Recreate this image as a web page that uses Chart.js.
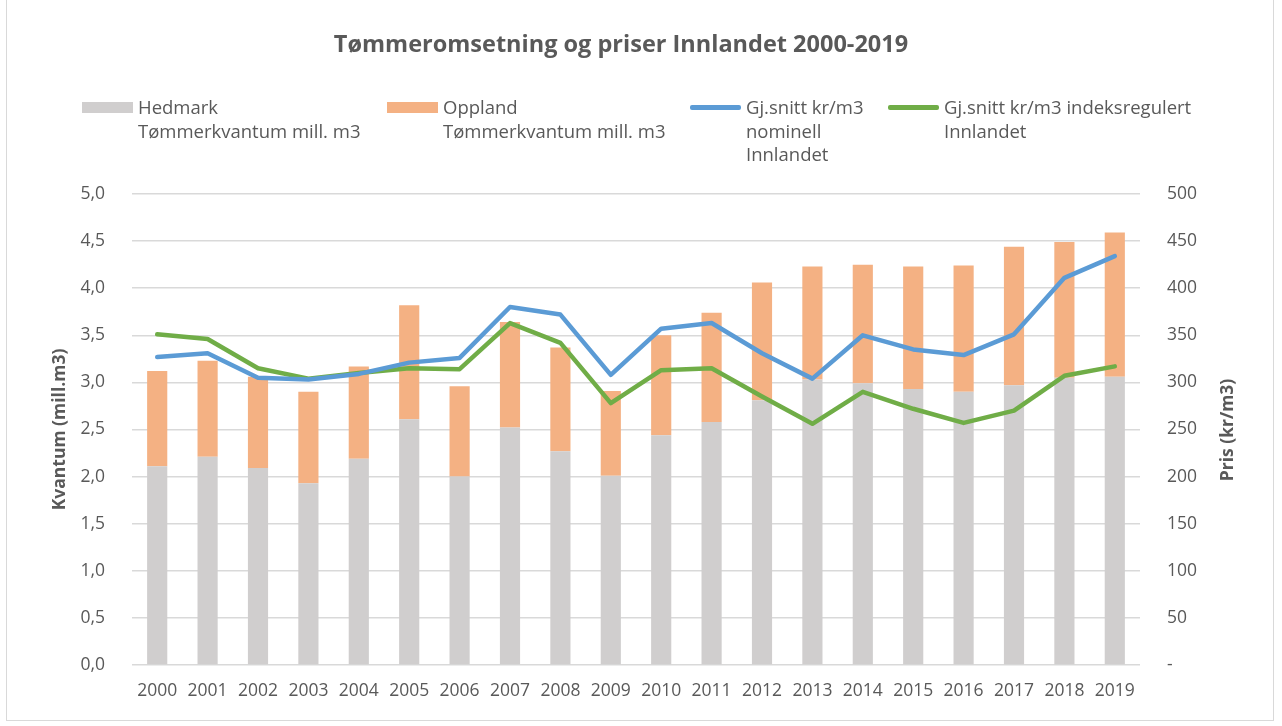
<!DOCTYPE html>
<html>
<head>
<meta charset="utf-8">
<script src="https://cdn.jsdelivr.net/npm/chart.js@4.4.1/dist/chart.umd.min.js"></script>
<style>
  body { margin: 0; background: #fff; font-family: 'Open Sans', sans-serif; }
  #wrap { position: relative; width: 1282px; height: 726px; overflow: hidden; }
  #frame { position: absolute; left: 6px; top: -1px; width: 1268px; height: 722px; border: 1px solid #d9d9d9; box-sizing: border-box; pointer-events: none; }
  #title { position: absolute; top: 27px; left: 0; width: 1242px; text-align: center; font-weight: bold; font-size: 23.5px; color: #595959; }
  .leg { position: absolute; top: 95px; font-size: 18.5px; line-height: 23.5px; color: #595959; }
  .sw { position: absolute; left: 0; }
  .txt { position: absolute; white-space: nowrap; }
  #ytitle2 { position: absolute; left: 1226px; top: 430px; transform: translate(-50%, -50%) rotate(-90deg); font-weight: bold; font-size: 17.5px; color: #595959; white-space: nowrap; }
</style>
</head>
<body>
<div id="wrap">
  <canvas id="chart" width="1282" height="726"></canvas>
  <div id="title">Tømmeromsetning og priser Innlandet 2000-2019</div>
  <div id="legend"></div>
  <div id="ytitle2">Pris (kr/m3)</div>
  <div id="frame"></div>
</div>
<script>
// ---- data ----
const years = ['2000','2001','2002','2003','2004','2005','2006','2007','2008','2009',
               '2010','2011','2012','2013','2014','2015','2016','2017','2018','2019'];

// Tømmerkvantum mill. m3
const hedmark = [2.11, 2.21, 2.09, 1.93, 2.19, 2.61, 2.00, 2.52, 2.27, 2.01,
                 2.44, 2.58, 2.81, 3.03, 2.99, 2.93, 2.90, 2.97, 3.05, 3.06];
const totals  = [3.12, 3.23, 3.06, 2.90, 3.17, 3.82, 2.96, 3.64, 3.37, 2.91,
                 3.50, 3.74, 4.06, 4.23, 4.25, 4.23, 4.24, 4.44, 4.49, 4.59];
const oppland = totals.map((t, i) => +(t - hedmark[i]).toFixed(2));

// kr/m3
const nominell = [327, 331, 305, 303, 309, 321, 326, 380, 372, 308,
                  357, 363, 331, 304, 350, 335, 329, 351, 411, 434];
const indeksregulert = [351, 346, 315, 304, 310, 315, 314, 363, 342, 278,
                        313, 315, 285, 256, 290, 272, 257, 270, 307, 317];

const seriesLabels = [
  ['Hedmark', 'Tømmerkvantum mill. m3'],
  ['Oppland', 'Tømmerkvantum mill. m3'],
  ['Gj.snitt kr/m3', 'nominell', 'Innlandet'],
  ['Gj.snitt kr/m3 indeksregulert', 'Innlandet'],
];
const seriesColors = ['#d0cece', '#f4b183', '#5b9bd5', '#70ad47'];

// ---- legend (html, multi-line labels) ----
const legendX = [82, 387, 690, 888];
const legend = document.getElementById('legend');
seriesLabels.forEach((lines, i) => {
  const el = document.createElement('div');
  el.className = 'leg';
  el.style.left = legendX[i] + 'px';
  const sw = document.createElement('div');
  sw.className = 'sw';
  if (i < 2) {
    sw.style.cssText += 'top:7px;width:51px;height:11px;background:' + seriesColors[i];
  } else {
    sw.style.cssText += 'top:10px;width:51px;height:4.5px;border-radius:2px;background:' + seriesColors[i];
  }
  const tx = document.createElement('div');
  tx.className = 'txt';
  tx.style.left = '56px';
  tx.innerHTML = lines.join('<br>');
  el.appendChild(sw);
  el.appendChild(tx);
  legend.appendChild(el);
});

// ---- chart ----
const tickColor = '#595959';
const tickFont = { family: "'Open Sans', sans-serif", size: 17.5 };

new Chart(document.getElementById('chart'), {
  data: {
    labels: years,
    datasets: [
      {
        type: 'line', label: seriesLabels[2].join(' '), data: nominell, yAxisID: 'y2',
        borderColor: seriesColors[2], borderWidth: 4.5, pointRadius: 0,
        borderCapStyle: 'round', borderJoinStyle: 'round', tension: 0, order: 0,
      },
      {
        type: 'line', label: seriesLabels[3].join(' '), data: indeksregulert, yAxisID: 'y2',
        borderColor: seriesColors[3], borderWidth: 4.5, pointRadius: 0,
        borderCapStyle: 'round', borderJoinStyle: 'round', tension: 0, order: 0,
      },
      {
        type: 'bar', label: seriesLabels[0].join(' '), data: hedmark, yAxisID: 'y',
        backgroundColor: seriesColors[0], barPercentage: 0.4, categoryPercentage: 1, order: 1,
      },
      {
        type: 'bar', label: seriesLabels[1].join(' '), data: oppland, yAxisID: 'y',
        backgroundColor: seriesColors[1], barPercentage: 0.4, categoryPercentage: 1, order: 1,
      },
    ],
  },
  options: {
    responsive: false,
    animation: false,
    layout: { padding: { top: 194, left: 0, right: 0, bottom: 0 } },
    plugins: { legend: { display: false }, title: { display: false }, tooltip: { enabled: false } },
    scales: {
      x: {
        stacked: true,
        grid: { display: false, drawTicks: false },
        border: { display: false },
        ticks: { color: tickColor, font: tickFont, padding: 16, maxRotation: 0, autoSkip: false },
        afterFit: s => { s.height = 61; },
      },
      y: {
        type: 'linear', position: 'left', stacked: true,
        min: 0, max: 5,
        grid: { color: '#d9d9d9', lineWidth: 1.5, drawTicks: false },
        border: { display: false },
        ticks: {
          stepSize: 0.5, color: tickColor, font: tickFont, padding: 27,
          callback: v => v.toFixed(1).replace('.', ','),
        },
        title: {
          display: true, text: 'Kvantum (mill.m3)', color: tickColor,
          font: { family: "'Open Sans', sans-serif", size: 17.5, weight: 'bold' },
          padding: { top: 50, bottom: 0 },
        },
        afterFit: s => { s.width = 132; },
      },
      y2: {
        type: 'linear', position: 'right',
        min: 0, max: 500,
        grid: { display: false, drawTicks: false },
        border: { display: false },
        ticks: {
          stepSize: 50, color: tickColor, font: tickFont, padding: 27,
          callback: v => (v === 0 ? '-' : v),
        },
        afterFit: s => { s.width = 142; },
      },
    },
  },
});
</script>
</body>
</html>
